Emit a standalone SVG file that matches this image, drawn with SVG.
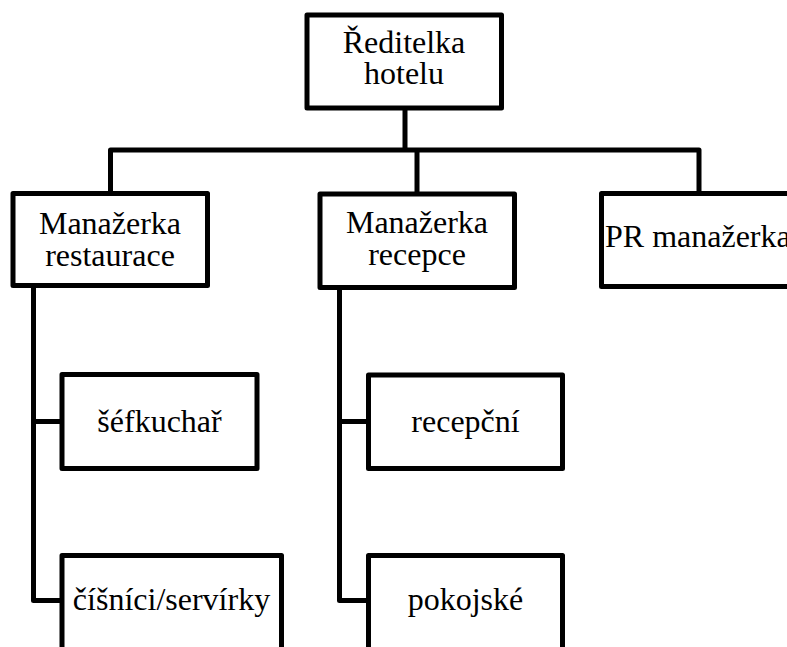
<svg xmlns="http://www.w3.org/2000/svg" width="787" height="647" viewBox="0 0 787 647">
<style>
.box{fill:#fff;stroke:#000;stroke-width:5;stroke-linejoin:round}
.ln{fill:none;stroke:#000;stroke-width:5;stroke-linejoin:round}
.t{font-family:'Liberation Serif','Times New Roman',serif;font-size:32px;fill:#000;text-anchor:middle}
</style>
<rect width="787" height="647" fill="#fff"/>
<g id="connectors">
<path class="ln" d="M405 108V150"/>
<path class="ln" d="M110.5 194V150H699V194"/>
<path class="ln" d="M417 150V194"/>
<path class="ln" d="M33.5 286V600.5H62"/>
<path class="ln" d="M33.5 421.5H62"/>
<path class="ln" d="M339.5 288V600.5H368.5"/>
<path class="ln" d="M339.5 421.5H368.5"/>
</g>
<g id="n-reditelka">
<rect class="box" x="307" y="15" width="194.5" height="93"/>
<text class="t" x="404" y="53">Ředitelka</text>
<text class="t" x="404" y="84">hotelu</text>
</g>
<g id="n-restaurace">
<rect class="box" x="13" y="193.5" width="194.5" height="92"/>
<text class="t" x="110" y="234">Manažerka</text>
<text class="t" x="110" y="266">restaurace</text>
</g>
<g id="n-recepce">
<rect class="box" x="320" y="194" width="194.5" height="93.5"/>
<text class="t" x="417" y="233">Manažerka</text>
<text class="t" x="417" y="265">recepce</text>
</g>
<g id="n-pr">
<rect class="box" x="601.5" y="193.5" width="200" height="93"/>
<text class="t" x="605" y="246.5" style="text-anchor:start">PR manažerka</text>
</g>
<g id="n-sefkuchar">
<rect class="box" x="62" y="374.5" width="195" height="94"/>
<text class="t" x="159.5" y="431.5">šéfkuchař</text>
</g>
<g id="n-cisnici">
<rect class="box" x="62" y="555.5" width="219.5" height="130"/>
<text class="t" x="171.5" y="610">číšníci/servírky</text>
</g>
<g id="n-recepcni">
<rect class="box" x="368.5" y="375" width="194" height="93.5"/>
<text class="t" x="465.5" y="431.5">recepční</text>
</g>
<g id="n-pokojske">
<rect class="box" x="368.5" y="555.5" width="194" height="130"/>
<text class="t" x="465.5" y="610">pokojské</text>
</g>
</svg>
